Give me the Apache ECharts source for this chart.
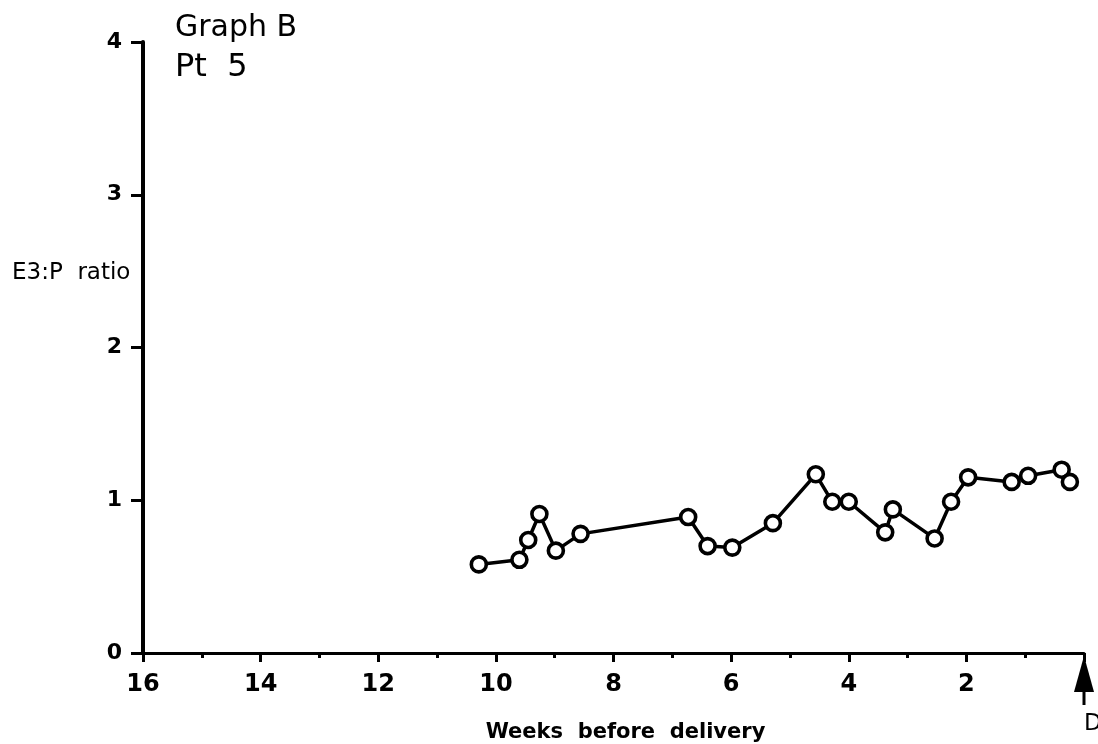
<!DOCTYPE html>
<html>
<head>
<meta charset="utf-8">
<script src="https://cdn.jsdelivr.net/npm/echarts@6/dist/echarts.min.js"></script>
<style>
  html, body { margin: 0; padding: 0; background: #fff; }
  #chart { width: 1098px; height: 744px; }
</style>
</head>
<body>
<div id="chart"></div>
<script>
// Weeks before delivery for each sample, and the E3:P ratio measured
const weeksBefore = [10.29, 9.60, 9.45, 9.26, 8.98, 8.56, 6.73, 6.40, 5.98, 5.29, 4.56,
                     4.28, 4.00, 3.38, 3.25, 2.54, 2.26, 1.97, 1.23, 0.95, 0.38, 0.24];
const e3pRatio    = [0.58, 0.61, 0.74, 0.91, 0.67, 0.78, 0.89, 0.70, 0.69, 0.85, 1.17,
                     0.99, 0.99, 0.79, 0.94, 0.75, 0.99, 1.15, 1.12, 1.16, 1.20, 1.12];

const xTickValues = [16, 14, 12, 10, 8, 6, 4, 2];
const yTickValues = [0, 1, 2, 3, 4];

const titleText   = 'Graph B';
const subtitle    = 'Pt  5';
const yAxisTitle  = 'E3:P  ratio';
const xAxisTitle  = 'Weeks  before  delivery';
const deliveryMark = 'D';

const FONT = 'DejaVu Sans';
const points = weeksBefore.map((w, i) => [w, e3pRatio[i]]);

const chart = echarts.init(document.getElementById('chart'), null, { renderer: 'canvas' });

chart.setOption({
  backgroundColor: '#ffffff',
  animation: false,
  title: [
    { text: titleText, left: 170, top: 8,
      textStyle: { fontFamily: FONT, fontSize: 30, fontWeight: 'normal', color: '#000' } },
    { text: subtitle, left: 170, top: 47,
      textStyle: { fontFamily: FONT, fontSize: 32, fontWeight: 'normal', color: '#000' } },
    { text: yAxisTitle, left: 7, top: 257,
      textStyle: { fontFamily: FONT, fontSize: 23, fontWeight: 'normal', color: '#000' } },
    { text: deliveryMark, left: 1079, top: 708,
      textStyle: { fontFamily: FONT, fontSize: 23, fontWeight: 'normal', color: '#000' } }
  ],
  grid: { left: 143, right: 14, top: 42, bottom: 91, containLabel: false, outerBoundsMode: 'none' },
  xAxis: {
    type: 'value',
    inverse: true,
    min: 0,
    max: 16,
    interval: 2,
    name: xAxisTitle,
    nameLocation: 'middle',
    nameGap: 69,
    nameTextStyle: { fontFamily: FONT, fontSize: 21, fontWeight: 'bold', color: '#000',
                     padding: [0, 0, 0, 24] },
    axisLine: { show: true, onZero: false, lineStyle: { color: '#000', width: 3 } },
    axisTick: { show: true, length: 9, lineStyle: { color: '#000', width: 3 } },
    minorTick: { show: true, splitNumber: 2, length: 5, lineStyle: { color: '#000', width: 3 } },
    splitLine: { show: false },
    minorSplitLine: { show: false },
    axisLabel: {
      show: true,
      margin: 20,
      fontFamily: FONT, fontSize: 24, fontWeight: 'bold', color: '#000',
      formatter: v => (xTickValues.indexOf(v) >= 0 ? String(v) : '')
    }
  },
  yAxis: {
    type: 'value',
    min: 0,
    max: 4,
    interval: 1,
    axisLine: { show: true, onZero: false, lineStyle: { color: '#000', width: 4 } },
    axisTick: { show: true, length: 12, lineStyle: { color: '#000', width: 3 } },
    splitLine: { show: false },
    axisLabel: {
      show: true,
      margin: 21,
      fontFamily: FONT, fontSize: 22, fontWeight: 'bold', color: '#000',
      formatter: v => (yTickValues.indexOf(v) >= 0 ? String(v) : '')
    }
  },
  series: [{
    type: 'line',
    data: points,
    symbol: 'circle',
    symbolSize: 15,
    showSymbol: true,
    lineStyle: { color: '#000', width: 3.5 },
    itemStyle: { color: '#fff', borderColor: '#000', borderWidth: 3.6 },
    z: 3
  }]
});

// Delivery arrow placed under x = 0 on the week axis
function drawDeliveryArrow() {
  const base = chart.convertToPixel({ gridIndex: 0 }, [0, 0]);
  const x = base[0];
  const y = base[1];
  chart.setOption({
    graphic: [
      { type: 'polygon', shape: { points: [[x, y + 3], [x - 10, y + 39], [x + 10, y + 39]] },
        style: { fill: '#000' } },
      { type: 'line', shape: { x1: x, y1: y + 37, x2: x, y2: y + 52 },
        style: { stroke: '#000', lineWidth: 3 } }
    ]
  });
}
drawDeliveryArrow();
</script>
</body>
</html>
